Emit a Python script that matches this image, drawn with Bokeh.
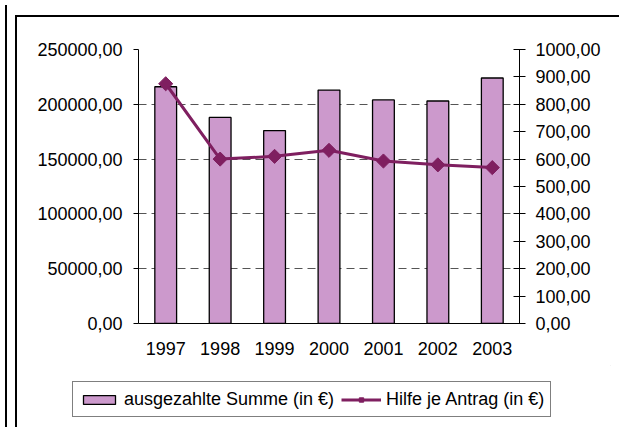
import math
from bokeh.plotting import figure
from bokeh.models import (Range1d, FactorRange, LinearAxis, FixedTicker, Legend,
                          LegendItem, ColumnDataSource, Div)
from bokeh.layouts import column
from bokeh.embed import file_html
from bokeh.resources import INLINE

years = ["1997", "1998", "1999", "2000", "2001", "2002", "2003"]
summe = [216000, 188000, 176000, 213000, 204000, 203000, 224000]
hilfe = [875, 600, 610, 632, 593, 579, 569]

left_ticks = [0, 50000, 100000, 150000, 200000, 250000]
left_labels = ["0,00", "50000,00", "100000,00", "150000,00", "200000,00", "250000,00"]
right_ticks = [0, 100, 200, 300, 400, 500, 600, 700, 800, 900, 1000]
right_labels = ["0,00", "100,00", "200,00", "300,00", "400,00", "500,00",
                "600,00", "700,00", "800,00", "900,00", "1000,00"]

FONT = "Liberation Sans"
FS = "18px"
BAR = "#CC99CC"
LINE = "#7F1F60"

src = ColumnDataSource(dict(year=years, summe=summe, hilfe=hilfe))

p = figure(x_range=FactorRange(*years, range_padding=0),
           y_range=Range1d(0, 250000),
           width=611, height=365,
           min_border_left=138, min_border_right=92,
           min_border_top=49, min_border_bottom=42,
           output_backend="svg", toolbar_location=None)
p.frame_align = False
p.extra_y_ranges = {"right": Range1d(0, 1000)}
p.outline_line_color = None
p.background_fill_color = "white"
p.border_fill_color = "white"

bars = p.vbar(x="year", top="summe", width=0.4, source=src,
              fill_color=BAR, line_color="black", line_width=1.3)
ln = p.line(x="year", y="hilfe", source=src, y_range_name="right",
            line_color=LINE, line_width=3)
mk = p.scatter(x="year", y="hilfe", source=src, y_range_name="right",
               marker="square", angle=math.pi / 4, size=10,
               fill_color=LINE, line_color=LINE)

# left axis
ya = p.yaxis[0]
ya.ticker = FixedTicker(ticks=left_ticks)
ya.major_label_overrides = {t: l for t, l in zip(left_ticks, left_labels)}
ya.major_tick_in = 0
ya.major_tick_out = 5
ya.minor_tick_out = 0
ya.minor_tick_in = 0
ya.major_label_standoff = 11
ya.axis_line_color = "black"
ya.major_tick_line_color = "black"
ya.major_label_text_font = FONT
ya.major_label_text_font_size = FS
ya.major_label_text_color = "black"

# right axis
ra = LinearAxis(y_range_name="right", ticker=FixedTicker(ticks=right_ticks))
ra.major_label_overrides = {t: l for t, l in zip(right_ticks, right_labels)}
ra.major_tick_in = 6
ra.major_tick_out = 6
ra.minor_tick_out = 0
ra.minor_tick_in = 0
ra.major_label_standoff = 10
ra.axis_line_color = "black"
ra.major_tick_line_color = "black"
ra.major_label_text_font = FONT
ra.major_label_text_font_size = FS
ra.major_label_text_color = "black"
p.add_layout(ra, "right")

# x axis
xa = p.xaxis[0]
xa.major_tick_in = 0
xa.major_tick_out = 0
xa.major_label_standoff = 18
xa.axis_line_color = "black"
xa.major_label_text_font = FONT
xa.major_label_text_font_size = FS
xa.major_label_text_color = "black"

p.xgrid.grid_line_color = None
p.ygrid.grid_line_color = "#555555"
p.ygrid.grid_line_dash = "8 5"
p.ygrid.grid_line_width = 1

# legend in its own strip below the chart
q = figure(width=611, height=54, x_range=Range1d(0, 1), y_range=Range1d(0, 1),
           x_axis_type=None, y_axis_type=None,
           min_border_left=0, min_border_right=0, min_border_top=0, min_border_bottom=0,
           output_backend="svg", toolbar_location=None)
q.frame_align = False
q.outline_line_color = None
q.grid.grid_line_color = None
q.border_fill_color = "white"
lb = q.vbar(x=[5], top=[5], bottom=[4], width=0.4, fill_color=BAR,
            line_color="black", line_width=1.3)
ll = q.line(x=[5, 6], y=[5, 5], line_color=LINE, line_width=3)
lm = q.scatter(x=[5], y=[5], marker="square", angle=math.pi / 4, size=9,
               fill_color=LINE, line_color=LINE)

legend = Legend(items=[LegendItem(label="ausgezahlte Summe (in €)", renderers=[lb]),
                       LegendItem(label="Hilfe je Antrag (in €)", renderers=[ll, lm])],
                orientation="horizontal", location=(72, 2))
legend.border_line_color = "black"
legend.border_line_width = 1
legend.background_fill_color = "white"
legend.background_fill_alpha = 1
legend.padding = 6
legend.margin = 0
legend.spacing = 7
legend.glyph_width = 40
legend.glyph_height = 11
legend.label_standoff = 5
legend.label_height = 22
legend.label_text_font = FONT
legend.label_text_font_size = "18px"
legend.label_text_color = "black"
q.add_layout(legend, "center")

frame = Div(text="", width=1, height=1,
            styles={"position": "fixed", "left": "10px", "top": "10px",
                    "width": "640px", "height": "440px",
                    "border-top": "2px solid black", "border-left": "2px solid black",
                    "pointer-events": "none", "z-index": "5"})
strip = Div(text="", width=1, height=1,
            styles={"position": "fixed", "left": "0px", "top": "0px",
                    "width": "2px", "height": "440px", "background": "black",
                    "pointer-events": "none", "z-index": "5"})

layout = column(p, q, frame, strip, spacing=0)
open("out.html", "w").write(file_html(layout, INLINE))
